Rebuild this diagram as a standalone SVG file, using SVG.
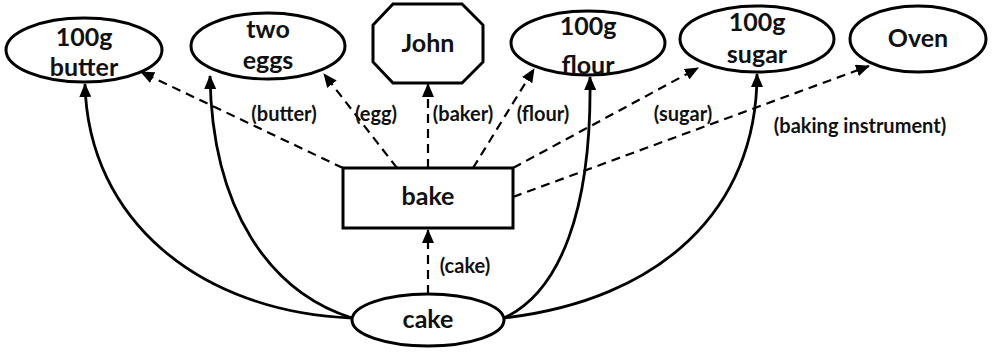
<svg xmlns="http://www.w3.org/2000/svg" width="995" height="352" viewBox="0 0 995 352">
<style>
.node{fill:#fff;stroke:#000;stroke-width:3}
.nt{font-family:Lato,"Open Sans",sans-serif;font-weight:700;font-size:25px;fill:#111;text-anchor:middle}
.lt{font-family:Lato,"Open Sans",sans-serif;font-weight:700;font-size:20px;fill:#111;text-anchor:middle}
.solid{fill:none;stroke:#000;stroke-width:2.8}
.dash{fill:none;stroke:#000;stroke-width:2.2;stroke-dasharray:9 6}
</style>
<defs>
<marker id="ah" viewBox="0 0 14 12" refX="13" refY="6" markerWidth="14" markerHeight="12" markerUnits="userSpaceOnUse" orient="auto">
<path d="M0,0 L14,6 L0,12 Z" fill="#000"/>
</marker>
</defs>
<rect width="995" height="352" fill="#fff"/>
<g id="connectors">
<path class="solid" d="M352,318 C200,312 88,220 85,84" marker-end="url(#ah)"/>
<path class="solid" d="M352,318 C270,292 212,210 210,76" marker-end="url(#ah)"/>
<path class="solid" d="M504,318 C560,292 592,210 590,77" marker-end="url(#ah)"/>
<path class="solid" d="M504,318 C660,300 757,210 757,74" marker-end="url(#ah)"/>
<path class="dash" d="M343,168 L141,72" marker-end="url(#ah)"/>
<path class="dash" d="M397,168 L324,74" marker-end="url(#ah)"/>
<path class="dash" d="M428,168 L428,84" marker-end="url(#ah)"/>
<path class="dash" d="M473,168 L534,69" marker-end="url(#ah)"/>
<path class="dash" d="M513,168 L698,68" marker-end="url(#ah)"/>
<path class="dash" d="M513,197 L869,66" marker-end="url(#ah)"/>
<path class="dash" d="M428,294 L428,230" marker-end="url(#ah)"/>
<text class="lt" x="284" y="121">(butter)</text>
<text class="lt" x="376" y="121">(egg)</text>
<text class="lt" x="463" y="121">(baker)</text>
<text class="lt" x="543" y="121">(flour)</text>
<text class="lt" x="683" y="121">(sugar)</text>
<text class="lt" x="860" y="133">(baking instrument)</text>
<text class="lt" x="465" y="273">(cake)</text>
</g>
<g id="butter">
<ellipse class="node" cx="84" cy="50" rx="78" ry="32"/>
<text class="nt" x="84" y="46">100g</text>
<text class="nt" x="84" y="76">butter</text>
</g>
<g id="eggs">
<ellipse class="node" cx="268" cy="46" rx="77" ry="33"/>
<text class="nt" x="268" y="38">two</text>
<text class="nt" x="268" y="69">eggs</text>
</g>
<g id="john">
<polygon class="node" points="393,4 462,4 483,25 483,62 462,83 393,83 373,62 373,25"/>
<text class="nt" x="428" y="52">John</text>
</g>
<g id="flour">
<ellipse class="node" cx="588" cy="43" rx="77" ry="32"/>
<text class="nt" x="588" y="35">100g</text>
<text class="nt" x="588" y="74">flour</text>
</g>
<g id="sugar">
<ellipse class="node" cx="757" cy="39" rx="77" ry="33"/>
<text class="nt" x="757" y="31">100g</text>
<text class="nt" x="757" y="63">sugar</text>
</g>
<g id="oven">
<ellipse class="node" cx="918" cy="39" rx="68" ry="33"/>
<text class="nt" x="918" y="47">Oven</text>
</g>
<g id="bake">
<rect class="node" x="343" y="168" width="170" height="60"/>
<text class="nt" x="428" y="205">bake</text>
</g>
<g id="cake">
<ellipse class="node" cx="428" cy="320" rx="76" ry="26"/>
<text class="nt" x="428" y="328">cake</text>
</g>
</svg>
